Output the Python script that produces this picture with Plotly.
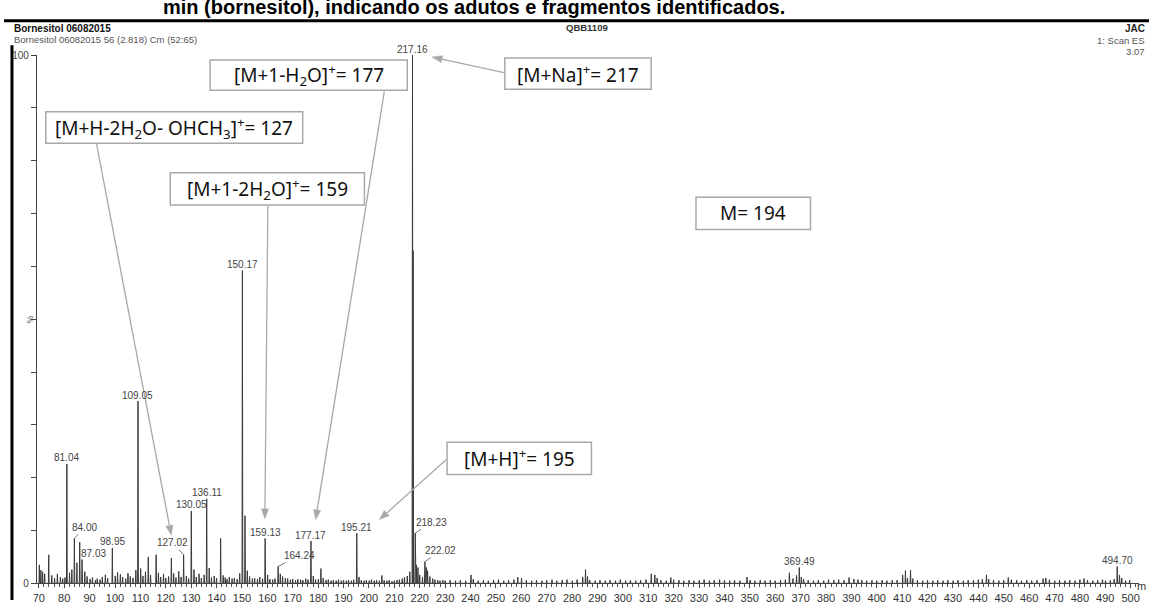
import math
import plotly.graph_objects as go

# ---------------- data ----------------
labelled_mz = [81.04, 84.00, 87.03, 98.95, 109.05, 127.02, 130.05, 136.11, 150.17,
               159.13, 164.24, 177.17, 195.21, 217.16, 218.23, 222.02, 369.49, 494.70]
labelled_int = [22.6, 8.5, 4.5, 6.7, 34.5, 5.4, 13.7, 16.0, 59.2,
                8.5, 3.2, 8.0, 9.5, 100.0, 9.5, 4.1, 3.0, 3.2]
labelled_text = ["81.04", "84.00", "87.03", "98.95", "109.05", "127.02", "130.05", "136.11", "150.17",
                 "159.13", "164.24", "177.17", "195.21", "217.16", "218.23", "222.02", "369.49", "494.70"]

minor_mz = [70.2, 70.8, 71.5, 72.3, 73.9, 75.1, 76.2, 77.3, 78.5, 79.4, 80.3, 82.1, 83.0, 85.0, 86.1,
            88.1, 89.0, 90.2, 91.1, 92.3, 93.0, 94.1, 95.0, 96.2, 97.1, 100.1, 101.0, 102.1, 103.0,
            104.2, 105.1, 106.0, 107.1, 108.2, 110.1, 111.0, 112.0, 113.1, 114.0, 116.2, 117.1, 118.0,
            119.1, 120.0, 121.1, 122.2, 123.1, 124.0, 125.1, 126.0, 128.1, 129.0, 131.1, 132.0, 133.1,
            134.0, 135.1, 137.1, 138.0, 139.1, 140.0, 141.6, 142.6, 143.4, 144.1, 145.0, 146.1, 147.0,
            148.1, 149.1, 151.2, 152.1, 153.0, 154.1, 155.0, 156.1, 157.0, 158.1, 160.1, 161.0, 162.1,
            163.0, 165.1, 166.0, 167.1, 168.0, 169.1, 170.0, 171.1, 172.0, 173.1, 174.0, 175.1, 176.0,
            178.1, 179.0, 180.1, 181.1, 182.0, 183.1, 184.0, 185.1, 186.0, 187.1, 188.0, 189.1, 190.0,
            191.1, 192.0, 193.1, 194.0, 196.1, 197.0, 198.1, 199.0, 200.1, 201.0, 202.1, 203.0, 204.1,
            205.1, 206.0, 207.1, 208.0, 209.1, 210.0, 211.1, 212.0, 213.1, 214.0, 215.1, 216.1, 217.4,
            218.7, 219.3, 220.0, 221.1, 222.6, 223.1, 224.0, 225.1, 226.0, 227.1, 228.0, 229.1, 230.0,
            232.0, 234.1, 236.0, 238.1, 240.2, 241.1, 243.0, 245.1, 247.0, 249.1, 251.0, 253.1, 255.0,
            257.1, 258.6, 260.1, 262.0, 264.1, 266.0, 268.1, 270.0, 272.1, 274.0, 276.1, 278.0, 280.1,
            282.0, 284.2, 285.3, 286.1, 287.0, 289.1, 291.0, 293.1, 295.0, 297.1, 299.0, 301.1, 303.0,
            305.1, 307.0, 309.1, 311.2, 312.6, 313.5, 315.0, 317.1, 318.9, 320.0, 322.1, 324.0, 326.1,
            328.0, 330.1, 332.0, 334.1, 336.0, 338.1, 340.0, 342.1, 344.0, 346.1, 348.9, 350.1, 352.0,
            354.1, 356.0, 358.1, 360.0, 362.1, 364.0, 365.6, 367.0, 368.4, 370.3, 371.2, 373.0, 375.1,
            377.0, 379.1, 381.0, 383.1, 385.0, 387.1, 389.1, 391.0, 392.6, 394.1, 396.0, 398.1, 400.0,
            402.1, 404.0, 406.1, 408.0, 410.2, 411.3, 412.1, 413.3, 414.2, 416.0, 418.1, 420.0, 422.1,
            424.0, 426.1, 428.0, 430.1, 432.0, 434.1, 436.0, 438.1, 440.0, 441.6, 443.2, 444.1, 446.0,
            448.1, 450.0, 451.8, 453.0, 455.1, 457.0, 459.1, 461.0, 463.1, 465.5, 466.6, 468.0, 470.1,
            472.0, 474.1, 476.0, 478.1, 480.0, 481.6, 483.0, 485.1, 487.0, 488.9, 490.1, 492.0, 493.5,
            495.6, 496.5, 498.0, 499.6]
minor_int = [3.5, 2.5, 2.2, 1.8, 5.4, 1.5, 1.0, 1.8, 1.2, 0.9, 1.1, 2.0, 2.6, 3.9, 7.8,
             2.2, 1.3, 0.8, 1.1, 0.6, 0.9, 0.7, 1.2, 1.6, 1.0, 1.4, 2.1, 1.7, 1.2,
             0.9, 1.9, 1.3, 1.0, 2.5, 2.8, 1.4, 2.2, 5.0, 1.6, 5.4, 2.0, 1.2,
             1.8, 1.0, 1.3, 4.8, 1.9, 1.1, 2.3, 1.2, 1.4, 0.9, 2.6, 1.2, 1.8,
             1.0, 1.6, 2.9, 1.1, 1.4, 1.0, 8.5, 1.5, 1.1, 0.8, 1.2, 0.9, 1.0,
             0.8, 1.9, 12.8, 2.4, 1.3, 0.9, 1.0, 0.8, 1.2, 0.9, 1.6, 0.8, 0.7,
             0.9, 1.8, 1.3, 1.0, 0.9, 0.7, 0.8, 0.6, 0.8, 0.7, 0.6, 0.9, 0.7,
             1.4, 0.7, 0.8, 2.8, 1.0, 0.6, 0.7, 0.5, 0.6, 0.5, 0.7, 0.5, 0.6,
             0.5, 0.6, 0.5, 0.7, 1.2, 0.6, 0.5, 0.6, 0.5, 0.7, 0.5, 0.6, 0.5,
             1.5, 0.6, 0.5, 0.6, 0.4, 0.5, 0.6, 0.7, 0.9, 1.2, 1.4, 2.2, 63.0,
             3.5, 3.0, 1.6, 1.2, 3.0, 2.4, 1.3, 0.9, 0.7, 0.6, 0.5, 0.6, 0.5,
             0.6, 0.5, 0.6, 0.5, 1.6, 0.8, 0.5, 0.6, 0.5, 0.6, 0.7, 0.5, 0.6,
             0.7, 1.2, 1.0, 0.6, 0.5, 0.6, 0.5, 0.6, 0.7, 0.5, 0.6, 0.7, 0.5,
             0.7, 1.2, 2.6, 1.3, 0.6, 0.5, 0.6, 0.5, 0.6, 0.5, 0.7, 0.5, 0.6,
             0.5, 0.6, 0.7, 1.8, 1.6, 1.0, 0.6, 0.5, 1.1, 0.7, 0.6, 0.5, 0.6,
             0.5, 0.6, 0.7, 0.5, 0.6, 0.7, 0.6, 0.5, 0.6, 0.5, 1.2, 0.6, 0.5,
             0.6, 0.5, 0.6, 0.5, 0.6, 0.7, 2.0, 0.9, 1.5, 1.2, 0.8, 0.6, 0.5,
             0.6, 0.5, 0.7, 0.6, 0.7, 0.6, 1.1, 0.8, 0.7, 0.6, 0.5, 0.6, 0.5,
             0.6, 0.5, 0.6, 0.6, 1.6, 2.4, 1.0, 2.5, 0.9, 0.6, 0.5, 0.6, 0.5,
             0.6, 0.5, 0.6, 0.5, 0.6, 0.5, 0.6, 0.6, 0.7, 0.8, 1.6, 0.8, 0.6,
             0.5, 0.6, 1.1, 0.7, 0.6, 0.5, 0.6, 0.5, 0.6, 0.9, 1.0, 0.7, 0.5,
             0.6, 0.5, 0.6, 0.5, 0.7, 0.9, 0.6, 0.5, 0.6, 0.7, 0.5, 0.6, 0.8,
             1.6, 1.0, 0.5, 0.6]

x_ticks = list(range(70, 501, 10))
y_label_ticks = [0, 100]
y_label_text = ["0", "100"]

# ---------------- helpers ----------------
W, H = 1150, 606
def PX(x):
    return x / W
def PY(y):
    return 1 - y / H

# build profile trace from peak lists
peaks = sorted(zip(labelled_mz + minor_mz, labelled_int + minor_int))
hw = 0.15
xs, ys = [], []
for m, h in peaks:
    xs += [m - hw, m, m + hw]
    ys += [0, h, 0]

fig = go.Figure()
fig.add_trace(go.Scatter(x=xs, y=ys, mode="lines",
                         line=dict(color="#3a3a3a", width=1),
                         hoverinfo="skip", showlegend=False))

lab_font = dict(family="Liberation Sans, Arial", size=10, color="#444444")
annotations = []
shapes = []

# peak labels, some with leader lines (offsets in px)
leaders = {"84.00": (10, -11), "87.03": (11, -6), "127.02": (-11, -12),
           "164.24": (21, -11), "218.23": (16, -11), "222.02": (16, -11)}
for m, h, t in zip(labelled_mz, labelled_int, labelled_text):
    if t in leaders:
        ax, ay = leaders[t]
        annotations.append(dict(x=m, y=h, xref="x", yref="y", text=t, showarrow=True,
                                arrowhead=0, arrowwidth=0.8, arrowcolor="#555555",
                                ax=ax, ay=ay, font=lab_font))
    else:
        annotations.append(dict(x=m, y=h, xref="x", yref="y", text=t, showarrow=False,
                                yanchor="middle", yshift=6, font=lab_font))

def arrow(tail, tip, color="#a8a8a8"):
    tx, ty = tail
    hx, hy = tip
    dx, dy = hx - tx, hy - ty
    L = math.hypot(dx, dy)
    ux, uy = dx / L, dy / L
    hl, hwid = 10, 3.6
    bx, by = hx - ux * hl, hy - uy * hl
    px_, py_ = -uy * hwid, ux * hwid
    shapes.append(dict(type="line", xref="paper", yref="paper",
                       x0=PX(tx), y0=PY(ty), x1=PX(bx), y1=PY(by),
                       line=dict(color=color, width=1.3)))
    path = (f"M {PX(hx)},{PY(hy)} L {PX(bx + px_)},{PY(by + py_)} "
            f"L {PX(bx - px_)},{PY(by - py_)} Z")
    shapes.append(dict(type="path", xref="paper", yref="paper", path=path,
                       fillcolor=color, line=dict(color=color, width=0.5)))

# boxed ion annotations: (text, box x0, x1, y0, y1, arrow tail (px), arrow tip (px))
box_font = dict(family="Noto Sans", size=19, color="#111111")
boxes = [
    ("[M+1-H<sub>2</sub>O]<sup>+</sup>= 177", 207, 405, 55, 86, (382, 87), (313, 524)),
    ("[M+Na]<sup>+</sup>= 217", 503, 650, 53, 85, (502, 68), (430, 52)),
    ("[M+H-2H<sub>2</sub>O- OHCH<sub>3</sub>]<sup>+</sup>= 127", 42, 300, 108, 140, (93, 141), (168, 540)),
    ("[M+1-2H<sub>2</sub>O]<sup>+</sup>= 159", 167, 362, 170, 203, (265, 204), (262, 523)),
    ("M= 194", 695, 810, 195, 228, None, None),
    ("[M+H]<sup>+</sup>= 195", 445, 590, 445, 478, (444, 463), (377, 524)),
]
for text, x0, x1, y0, y1, tail, tip in boxes:
    shapes.append(dict(type="rect", xref="paper", yref="paper",
                       x0=PX(x0), x1=PX(x1), y0=PY(y1), y1=PY(y0),
                       line=dict(color="#a8a8a8", width=1.5), fillcolor="white", layer="above"))
    annotations.append(dict(x=PX((x0 + x1) / 2), y=PY((y0 + y1) / 2), xref="paper", yref="paper",
                            text=text, showarrow=False, xanchor="center", yanchor="middle",
                            font=box_font))
    if tip is not None:
        arrow(tail, tip)

# page lines
shapes.append(dict(type="line", xref="paper", yref="paper", x0=0, x1=1, y0=PY(15), y1=PY(15),
                   line=dict(color="black", width=3)))
shapes.append(dict(type="line", xref="paper", yref="paper", x0=PX(8), x1=PX(8), y0=PY(40), y1=0,
                   line=dict(color="black", width=3)))

# header / misc texts
def txt(x, y, t, size, color="#333333", bold=False, xanchor="left", angle=0, family="Liberation Sans, Arial"):
    annotations.append(dict(x=PX(x), y=PY(y), xref="paper", yref="paper",
                            text=f"<b>{t}</b>" if bold else t, showarrow=False,
                            xanchor=xanchor, yanchor="middle", textangle=angle,
                            font=dict(family=family, size=size, color=color)))

txt(472, 1, "min (bornesitol), indicando os adutos e fragmentos identificados.", 20,
    color="black", bold=True, xanchor="center")
txt(8, 23, "Bornesitol 06082015", 10, color="#111111", bold=True)
txt(8, 34, "Bornesitol 06082015 56 (2.818) Cm (52:65)", 9.5, color="#555555")
txt(586, 22, "QBB1109", 9.5, color="#333333", bold=True, xanchor="center")
txt(1148, 23, "JAC", 10, color="#222222", bold=True, xanchor="right")
txt(1148, 35, "1: Scan ES", 9.5, color="#555555", xanchor="right")
txt(1148, 46, "3.07", 9.5, color="#555555", xanchor="right")
txt(1149, 592, "m", 11, color="#333333", xanchor="right")
txt(26, 320, "%", 9, color="#555555", xanchor="center", angle=-90)

fig.update_layout(
    width=W, height=H,
    margin=dict(l=0, r=0, t=0, b=0),
    paper_bgcolor="white", plot_bgcolor="white",
    showlegend=False,
    xaxis=dict(domain=[PX(33), PX(1140)], range=[69.22, 503.3],
               tickvals=x_ticks, ticktext=[str(v) for v in x_ticks],
               ticks="outside", ticklen=4, tickwidth=1, tickcolor="#444444",
               tickfont=dict(family="Liberation Sans, Arial", size=11, color="#333333"),
               showline=True, linecolor="#444444", linewidth=1,
               showgrid=False, zeroline=False,
               minor=dict(dtick=2, tick0=70, ticks="outside", ticklen=2.5, tickcolor="#555555",
                          showgrid=False)),
    yaxis=dict(domain=[1 - 589 / H, 1 - 50 / H], range=[0, 100],
               tickvals=y_label_ticks, ticktext=y_label_text,
               ticks="outside", ticklen=5, tickwidth=1, tickcolor="#444444",
               tickfont=dict(family="Liberation Sans, Arial", size=10, color="#444444"),
               showline=True, linecolor="#444444", linewidth=1,
               showgrid=False, zeroline=False,
               minor=dict(dtick=10, tick0=0, ticks="outside", ticklen=5, tickcolor="#444444",
                          showgrid=False)),
    shapes=shapes,
    annotations=annotations,
)

fig.write_html("out.html")
